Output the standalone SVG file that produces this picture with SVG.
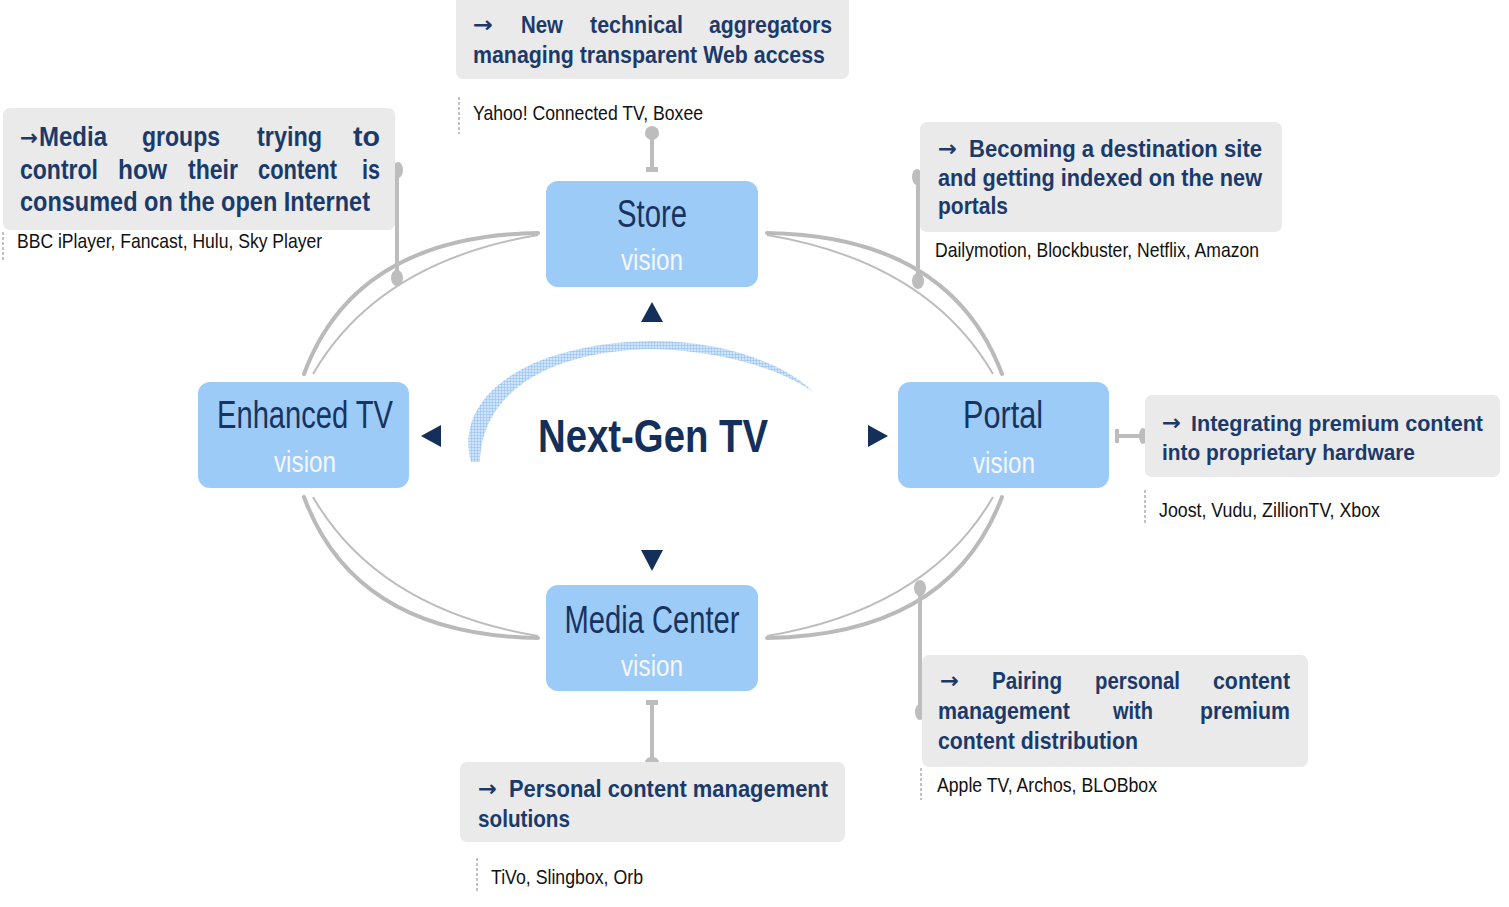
<svg xmlns="http://www.w3.org/2000/svg" width="1509" height="907" viewBox="0 0 1509 907">
  <style>
    .vision-box { fill: #9DCBF8; }
    .title { font-family: "Liberation Sans", Arial, sans-serif; font-size: 38px; fill: #17345F; text-anchor: middle; }
    .sub { font-family: "Liberation Sans", Arial, sans-serif; font-size: 29px; fill: #F4F7FF; text-anchor: middle; }
    .hub { font-family: "Liberation Sans", Arial, sans-serif; font-size: 47px; font-weight: bold; fill: #142F5A; text-anchor: middle; }
    .callout { fill: #EAEAEA; }
    .ct { font-family: "Liberation Sans", Arial, sans-serif; font-size: 24px; font-weight: bold; fill: #1B3A6A; }
    .ct-big { font-family: "Liberation Sans", Arial, sans-serif; font-size: 27px; font-weight: bold; fill: #1B3A6A; }
    .arrow { font-family: "DejaVu Sans", sans-serif; font-size: 22px; font-weight: bold; fill: #1B3A6A; }
    .ex { font-family: "Liberation Sans", Arial, sans-serif; font-size: 21px; fill: #111111; }
    .ring-outer { fill: none; stroke: #BABABA; stroke-width: 4; stroke-linecap: round; }
    .ring-inner { fill: none; stroke: #BDBDBD; stroke-width: 2; }
    .stem { stroke: #BDBDBD; stroke-width: 4; fill: none; }
    .knob { fill: #BDBDBD; }
    .tick { stroke: #9A9A9A; stroke-width: 1.2; stroke-dasharray: 3 2; }
    .pointer { fill: #152F5B; }
  </style>
  <defs>
    <pattern id="hatch" width="3" height="3" patternUnits="userSpaceOnUse">
      <rect width="3" height="3" fill="#CFE3FA"/>
      <path d="M0,0 H3 M0,0 V3" stroke="#8DBDF0" stroke-width="1"/>
    </pattern>
  </defs>

  <!-- connectors: ring arcs between visions, stems to the callouts -->
  <g id="connectors">
    <path class="ring-outer" d="M538,233 Q355,236 304,374"/>
    <path class="ring-inner" d="M538,235 Q378,262 313,374"/>
    <path class="ring-outer" d="M767,233 Q950,236 1002,374"/>
    <path class="ring-inner" d="M767,235 Q928,262 993,374"/>
    <path class="ring-outer" d="M304,497 Q355,635 538,638"/>
    <path class="ring-inner" d="M313,497 Q378,609 538,636"/>
    <path class="ring-outer" d="M1002,497 Q950,635 767,638"/>
    <path class="ring-inner" d="M993,497 Q928,609 767,636"/>

    <!-- Store -> top callout -->
    <line class="stem" x1="652" y1="133" x2="652" y2="170"/>
    <circle class="knob" cx="652" cy="133" r="7"/>
    <rect class="knob" x="646" y="167" width="12" height="5"/>
    <!-- left callout -->
    <line class="stem" x1="397" y1="168" x2="397" y2="278"/>
    <ellipse class="knob" cx="398" cy="170" rx="5" ry="8"/>
    <ellipse class="knob" cx="397" cy="278" rx="6" ry="8"/>
    <!-- top right callout -->
    <line class="stem" x1="918" y1="176" x2="918" y2="281"/>
    <ellipse class="knob" cx="917" cy="177" rx="5" ry="8"/>
    <ellipse class="knob" cx="918" cy="281" rx="6" ry="8"/>
    <!-- Portal -> right callout -->
    <line class="stem" x1="1117" y1="436" x2="1142" y2="436"/>
    <rect class="knob" x="1115" y="429" width="4" height="14"/>
    <ellipse class="knob" cx="1143" cy="436" rx="4" ry="8"/>
    <!-- bottom right callout -->
    <line class="stem" x1="920" y1="588" x2="920" y2="712"/>
    <ellipse class="knob" cx="920" cy="588" rx="6" ry="8"/>
    <ellipse class="knob" cx="920" cy="712" rx="5" ry="8"/>
    <!-- Media Center -> bottom callout -->
    <line class="stem" x1="652" y1="702" x2="652" y2="760"/>
    <rect class="knob" x="646" y="700" width="12" height="5"/>
    <ellipse class="knob" cx="652" cy="762" rx="7" ry="5"/>
  </g>

  <!-- hub -->
  <g id="hub">
    <path d="M471,462 C454,400 520,344 650,341 C722,340 786,364 813,392 C782,370 722,350 650,349 C534,352 481,402 480,462 Z" fill="url(#hatch)"/>
    <text class="hub" x="653" y="452" textLength="230" lengthAdjust="spacingAndGlyphs">Next-Gen TV</text>
    <polygon class="pointer" points="641,322 663,322 652,302"/>
    <polygon class="pointer" points="441,425 441,447 421,436"/>
    <polygon class="pointer" points="641,550 663,550 652,571"/>
    <polygon class="pointer" points="868,425 868,447 888,436"/>
  </g>

  <!-- vision nodes -->
  <g id="store">
    <rect class="vision-box" x="546" y="181" width="212" height="106" rx="12"/>
    <text class="title" x="652" y="227" textLength="70" lengthAdjust="spacingAndGlyphs">Store</text>
    <text class="sub" x="652" y="270" textLength="62" lengthAdjust="spacingAndGlyphs">vision</text>
  </g>
  <g id="enhanced-tv">
    <rect class="vision-box" x="198" y="382" width="211" height="106" rx="12"/>
    <text class="title" x="305" y="428" textLength="176" lengthAdjust="spacingAndGlyphs">Enhanced TV</text>
    <text class="sub" x="305" y="472" textLength="62" lengthAdjust="spacingAndGlyphs">vision</text>
  </g>
  <g id="portal">
    <rect class="vision-box" x="898" y="382" width="211" height="106" rx="12"/>
    <text class="title" x="1003" y="428" textLength="80" lengthAdjust="spacingAndGlyphs">Portal</text>
    <text class="sub" x="1004" y="473" textLength="62" lengthAdjust="spacingAndGlyphs">vision</text>
  </g>
  <g id="media-center">
    <rect class="vision-box" x="546" y="585" width="212" height="106" rx="12"/>
    <text class="title" x="652" y="633" textLength="175" lengthAdjust="spacingAndGlyphs">Media Center</text>
    <text class="sub" x="652" y="676" textLength="62" lengthAdjust="spacingAndGlyphs">vision</text>
  </g>

  <!-- callouts -->
  <g id="callout-store">
    <rect class="callout" x="456" y="-6" width="393" height="85" rx="7"/>
    <text class="arrow" x="473" y="32" textLength="20" lengthAdjust="spacingAndGlyphs">→</text>
    <text class="ct" x="521" y="33" textLength="42" lengthAdjust="spacingAndGlyphs">New</text>
    <text class="ct" x="590" y="33" textLength="93" lengthAdjust="spacingAndGlyphs">technical</text>
    <text class="ct" x="709" y="33" textLength="123" lengthAdjust="spacingAndGlyphs">aggregators</text>
    <text class="ct" x="473" y="63" textLength="352" lengthAdjust="spacingAndGlyphs">managing transparent Web access</text>
    <line class="tick" x1="459" y1="97" x2="459" y2="134"/>
    <text class="ex" x="473" y="120" textLength="230" lengthAdjust="spacingAndGlyphs">Yahoo! Connected TV, Boxee</text>
  </g>

  <g id="callout-enhanced-tv">
    <rect class="callout" x="3" y="108" width="392" height="122" rx="7"/>
    <text class="arrow" x="20" y="145" textLength="18" lengthAdjust="spacingAndGlyphs">→</text>
    <text class="ct-big" x="39" y="146" textLength="68" lengthAdjust="spacingAndGlyphs">Media</text>
    <text class="ct-big" x="142" y="146" textLength="78" lengthAdjust="spacingAndGlyphs">groups</text>
    <text class="ct-big" x="257" y="146" textLength="65" lengthAdjust="spacingAndGlyphs">trying</text>
    <text class="ct-big" x="353" y="146" textLength="27" lengthAdjust="spacingAndGlyphs">to</text>
    <text class="ct-big" x="20" y="179" textLength="78" lengthAdjust="spacingAndGlyphs">control</text>
    <text class="ct-big" x="118" y="179" textLength="49" lengthAdjust="spacingAndGlyphs">how</text>
    <text class="ct-big" x="188" y="179" textLength="50" lengthAdjust="spacingAndGlyphs">their</text>
    <text class="ct-big" x="258" y="179" textLength="79" lengthAdjust="spacingAndGlyphs">content</text>
    <text class="ct-big" x="362" y="179" textLength="18" lengthAdjust="spacingAndGlyphs">is</text>
    <text class="ct-big" x="20" y="211" textLength="350" lengthAdjust="spacingAndGlyphs">consumed on the open Internet</text>
    <line class="tick" x1="3" y1="232" x2="3" y2="262"/>
    <text class="ex" x="17" y="248" textLength="305" lengthAdjust="spacingAndGlyphs">BBC iPlayer, Fancast, Hulu, Sky Player</text>
  </g>

  <g id="callout-store-portal">
    <rect class="callout" x="920" y="122" width="362" height="110" rx="7"/>
    <text class="arrow" x="938" y="156" textLength="19" lengthAdjust="spacingAndGlyphs">→</text>
    <text class="ct" x="969" y="157" textLength="293" lengthAdjust="spacingAndGlyphs">Becoming a destination site</text>
    <text class="ct" x="938" y="186" textLength="324" lengthAdjust="spacingAndGlyphs">and getting indexed on the new</text>
    <text class="ct" x="938" y="214" textLength="70" lengthAdjust="spacingAndGlyphs">portals</text>
    <text class="ex" x="935" y="257" textLength="324" lengthAdjust="spacingAndGlyphs">Dailymotion, Blockbuster, Netflix, Amazon</text>
  </g>

  <g id="callout-portal">
    <rect class="callout" x="1145" y="395" width="355" height="82" rx="7"/>
    <text class="arrow" x="1162" y="430" textLength="19" lengthAdjust="spacingAndGlyphs">→</text>
    <text class="ct" x="1191" y="431" textLength="292" lengthAdjust="spacingAndGlyphs" style="font-size:22px">Integrating premium content</text>
    <text class="ct" x="1162" y="460" textLength="253" lengthAdjust="spacingAndGlyphs" style="font-size:22px">into proprietary hardware</text>
    <line class="tick" x1="1145" y1="490" x2="1145" y2="524"/>
    <text class="ex" x="1159" y="517" textLength="221" lengthAdjust="spacingAndGlyphs">Joost, Vudu, ZillionTV, Xbox</text>
  </g>

  <g id="callout-portal-media">
    <rect class="callout" x="922" y="655" width="386" height="112" rx="7"/>
    <text class="arrow" x="940" y="688" textLength="19" lengthAdjust="spacingAndGlyphs">→</text>
    <text class="ct" x="992" y="689" textLength="70" lengthAdjust="spacingAndGlyphs">Pairing</text>
    <text class="ct" x="1095" y="689" textLength="85" lengthAdjust="spacingAndGlyphs">personal</text>
    <text class="ct" x="1213" y="689" textLength="77" lengthAdjust="spacingAndGlyphs">content</text>
    <text class="ct" x="938" y="719" textLength="132" lengthAdjust="spacingAndGlyphs">management</text>
    <text class="ct" x="1113" y="719" textLength="40" lengthAdjust="spacingAndGlyphs">with</text>
    <text class="ct" x="1200" y="719" textLength="90" lengthAdjust="spacingAndGlyphs">premium</text>
    <text class="ct" x="938" y="749" textLength="200" lengthAdjust="spacingAndGlyphs">content distribution</text>
    <line class="tick" x1="921" y1="768" x2="921" y2="800"/>
    <text class="ex" x="937" y="792" textLength="220" lengthAdjust="spacingAndGlyphs">Apple TV, Archos, BLOBbox</text>
  </g>

  <g id="callout-media-center">
    <rect class="callout" x="460" y="762" width="385" height="80" rx="7"/>
    <text class="arrow" x="478" y="796" textLength="19" lengthAdjust="spacingAndGlyphs">→</text>
    <text class="ct" x="509" y="797" textLength="319" lengthAdjust="spacingAndGlyphs">Personal content management</text>
    <text class="ct" x="478" y="827" textLength="92" lengthAdjust="spacingAndGlyphs">solutions</text>
    <line class="tick" x1="477" y1="858" x2="477" y2="891"/>
    <text class="ex" x="491" y="884" textLength="152" lengthAdjust="spacingAndGlyphs">TiVo, Slingbox, Orb</text>
  </g>
</svg>
